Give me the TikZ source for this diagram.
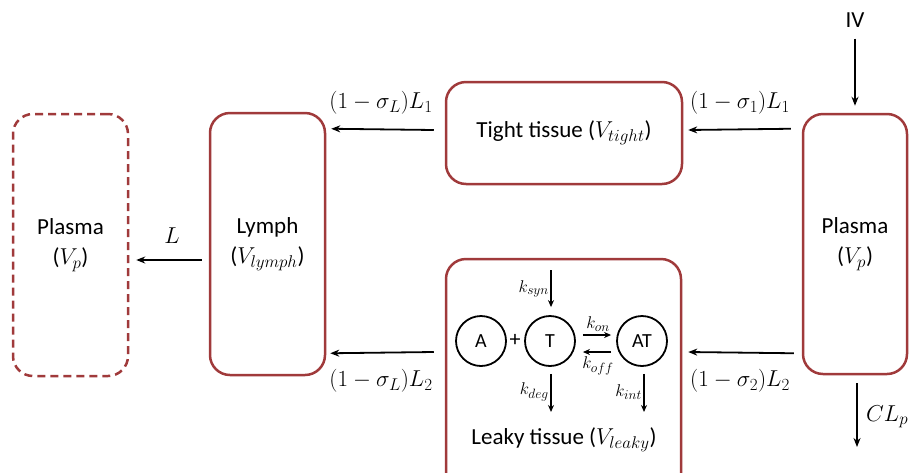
\RequirePackage{fix-cm}
\documentclass[tikz,border=0pt]{standalone}
\usepackage{fontspec}
\setmainfont{Carlito}
\DeclareMathSizes{17}{17}{13.5}{10}
\DeclareMathSizes{23}{23}{17}{13}
\usetikzlibrary{arrows.meta,calc}
\definecolor{boxred}{HTML}{A03A3B}
\begin{document}
\begin{tikzpicture}[x=1pt,y=-1pt,
  comp/.style={draw=boxred, line width=2.5pt, rounded corners=20pt, inner sep=0pt, align=center, font=\fontsize{23}{30}\selectfont},
  flow/.style={-{Stealth[length=9pt,width=7pt]}, line width=1.8pt},
  rxn/.style={-{Stealth[length=7pt,width=6pt]}, line width=1.3pt},
  species/.style={circle, draw, line width=1.8pt, minimum size=50pt, inner sep=0pt, font=\fontsize{20}{24}\selectfont},
  lbl/.style={font=\fontsize{23}{30}\selectfont, inner sep=0pt},
  klbl/.style={font=\fontsize{17}{20}\selectfont, inner sep=0pt}]
\useasboundingbox (0,0) rectangle (909,472);
\clip (0,0) rectangle (909,472);
% compartments
\node[comp, dashed, dash pattern=on 8pt off 5pt, minimum width=115pt, minimum height=262pt] (lp) at (70.5,245) {Plasma\\($V_p$)};
\node[comp, minimum width=115pt, minimum height=262pt] (lymph) at (267.5,244) {Lymph\\($V_{lymph}$)};
\node[comp, minimum width=236pt, minimum height=102pt] (tight) at (564,133) {Tight tissue ($V_{tight}$)};
\node[comp, minimum width=235pt, minimum height=244pt] (leaky) at (563.5,381) {};
\node[comp, minimum width=104pt, minimum height=260pt] (rp) at (855,244) {Plasma\\($V_p$)};
\node[lbl] (leakylbl) at (564,440) {Leaky tissue ($V_{leaky}$)};
% input / output
\node[lbl] (iv) at (855,20) {IV};
\draw[flow] ($(iv.south)+(0,11)$) -- ($(rp.north)+(0,-7)$);
\coordinate (clend) at (857,447);
\draw[flow] ($(rp.south)+(2,8)$) -- (clend);
\node[lbl, anchor=west] (cllbl) at (866,417) {$CL_p$};
% flows
\draw[flow] ($(rp.north west)+(-11,16)$) -- ($(tight.east)+(5,-3)$);
\node[lbl] (s1) at (740,103) {$(1-\sigma_1)L_1$};
\draw[flow] ($(tight.west)+(-11,-3)$) -- ($(lymph.north east)+(5,17)$);
\node[lbl] (sl1) at (381,103) {$(1-\sigma_L)L_1$};
\draw[flow] ($(rp.south west)+(-8,-22)$) -- ($(leaky.east)+(6,-29)$);
\node[lbl] (s2) at (740,381) {$(1-\sigma_2)L_2$};
\draw[flow] ($(leaky.west)+(-11,-29)$) -- ($(lymph.south east)+(4,-23)$);
\node[lbl] (sl2) at (381,381) {$(1-\sigma_L)L_2$};
\draw[flow] ($(lymph.west)+(-7,16)$) -- ($(lp.east)+(7,15)$);
\node[lbl] (llbl) at (172,236) {$L$};
% reaction
\node[species] (A) at (481,341) {A};
\node[species] (T) at (550,341) {T};
\node[species] (AT) at (642,341) {AT};
\node[font=\fontsize{22}{24}\selectfont, inner sep=0pt] (plus) at (515,340) {+};
\coordinate (synstart) at (551,270);
\draw[rxn] (synstart) -- ($(T.north)+(1,-8)$);
\node[klbl, anchor=east] (ksyn) at (549,289) {$k_{syn}$};
\draw[rxn] ($(T.east)+(7,-6)$) -- ($(AT.west)+(-5,-6)$);
\node[klbl] (kon) at (598,324) {$k_{on}$};
\draw[rxn] ($(AT.west)+(-5,11)$) -- ($(T.east)+(7,11)$);
\node[klbl] (koff) at (598,366) {$k_{off}$};
\coordinate (degend) at (551,412);
\draw[rxn] ($(T.south)+(1,7)$) -- (degend);
\node[klbl, anchor=east] (kdeg) at (549,392) {$k_{deg}$};
\coordinate (intend) at (644,412);
\draw[rxn] ($(AT.south)+(2,7)$) -- (intend);
\node[klbl, anchor=east] (kint) at (642,392) {$k_{int}$};
\end{tikzpicture}
\end{document}
